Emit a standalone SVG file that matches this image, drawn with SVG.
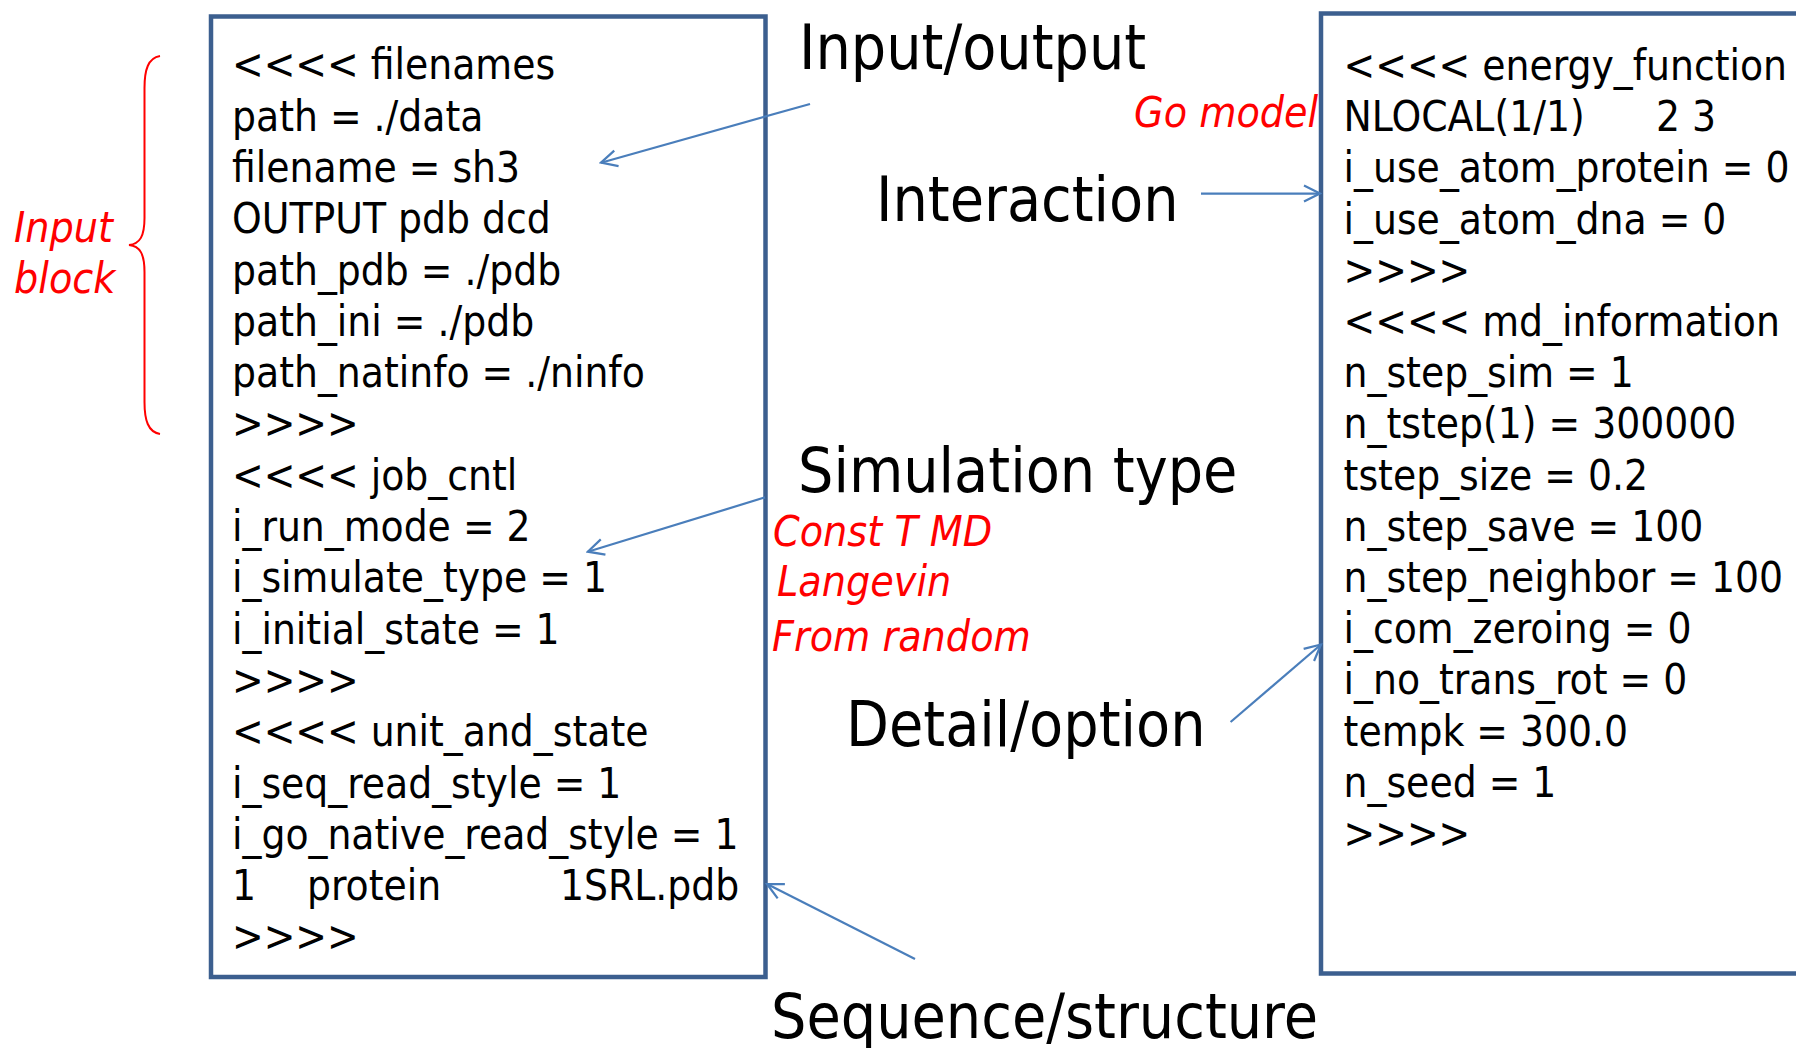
<svg xmlns="http://www.w3.org/2000/svg" width="1796" height="1048" viewBox="0 0 1796 1048">
<style>
.code{font-family:'DejaVu Sans Condensed','DejaVu Sans',sans-serif;font-stretch:condensed;font-size:42px;fill:#000}
.lab{font-family:'DejaVu Sans Condensed','DejaVu Sans',sans-serif;font-stretch:condensed;font-size:62px;fill:#000}
.note{font-family:'DejaVu Sans Condensed','DejaVu Sans',sans-serif;font-stretch:condensed;font-style:italic;font-size:42.5px;fill:#FF0000}
.box{fill:#fff;stroke:#3C5F8F;stroke-width:4.5}
.conn{fill:none;stroke:#4A7EBB;stroke-width:2.2}
</style>
<defs>
<marker id="arr" viewBox="0 0 20 20" refX="18" refY="10" markerWidth="20" markerHeight="20" markerUnits="userSpaceOnUse" orient="auto">
<path d="M2,2 L18,10 L2,18" fill="none" stroke="#4A7EBB" stroke-width="2.2"/>
</marker>
</defs>
<rect width="1796" height="1048" fill="#fff"/>
<g id="left-box">
<rect class="box" x="211" y="16.5" width="554.5" height="960.5"/>
<text class="code" x="232">
<tspan x="232" y="79.3">&lt;&lt;&lt;&lt; filenames</tspan>
<tspan x="232" y="130.6">path = ./data</tspan>
<tspan x="232" y="181.9">filename = sh3</tspan>
<tspan x="232" y="233.2">OUTPUT pdb dcd</tspan>
<tspan x="232" y="284.5">path_pdb = ./pdb</tspan>
<tspan x="232" y="335.8">path_ini = ./pdb</tspan>
<tspan x="232" y="387.1">path_natinfo = ./ninfo</tspan>
<tspan x="232" y="438.4">&gt;&gt;&gt;&gt;</tspan>
<tspan x="232" y="489.7">&lt;&lt;&lt;&lt; job_cntl</tspan>
<tspan x="232" y="541">i_run_mode = 2</tspan>
<tspan x="232" y="592.3">i_simulate_type = 1</tspan>
<tspan x="232" y="643.6">i_initial_state = 1</tspan>
<tspan x="232" y="694.9">&gt;&gt;&gt;&gt;</tspan>
<tspan x="232" y="746.2">&lt;&lt;&lt;&lt; unit_and_state</tspan>
<tspan x="232" y="797.5">i_seq_read_style = 1</tspan>
<tspan x="232" y="848.8">i_go_native_read_style = 1</tspan>
<tspan x="232" y="900.1">1</tspan><tspan x="307" y="900.1">protein</tspan><tspan x="560" y="900.1">1SRL.pdb</tspan>
<tspan x="232" y="951.4">&gt;&gt;&gt;&gt;</tspan>
</text>
</g>
<g id="right-box">
<rect class="box" x="1321" y="13.5" width="520" height="960"/>
<text class="code">
<tspan x="1343.6" y="80">&lt;&lt;&lt;&lt; energy_function</tspan>
<tspan x="1343.6" y="131.2">NLOCAL(1/1)</tspan><tspan x="1656" y="131.2">2 3</tspan>
<tspan x="1343.6" y="182.4">i_use_atom_protein = 0</tspan>
<tspan x="1343.6" y="233.6">i_use_atom_dna = 0</tspan>
<tspan x="1343.6" y="284.8">&gt;&gt;&gt;&gt;</tspan>
<tspan x="1343.6" y="336">&lt;&lt;&lt;&lt; md_information</tspan>
<tspan x="1343.6" y="387.2">n_step_sim = 1</tspan>
<tspan x="1343.6" y="438.4">n_tstep(1) = 300000</tspan>
<tspan x="1343.6" y="489.6">tstep_size = 0.2</tspan>
<tspan x="1343.6" y="540.8">n_step_save = 100</tspan>
<tspan x="1343.6" y="592">n_step_neighbor = 100</tspan>
<tspan x="1343.6" y="643.2">i_com_zeroing = 0</tspan>
<tspan x="1343.6" y="694.4">i_no_trans_rot = 0</tspan>
<tspan x="1343.6" y="745.6">tempk = 300.0</tspan>
<tspan x="1343.6" y="796.8">n_seed = 1</tspan>
<tspan x="1343.6" y="848">&gt;&gt;&gt;&gt;</tspan>
</text>
</g>
<g id="input-block-label">
<path d="M160,56 C148,58 144.5,70 144.5,88 L144.5,218 C144.5,236 140,244 129,245 C140,246 144.5,254 144.5,272 L144.5,402 C144.5,420 148,432 160,434" fill="none" stroke="#FF0000" stroke-width="2"/>
<text class="note" x="14" y="242">Input</text>
<text class="note" x="14" y="293">block</text>
</g>
<g id="label-input-output"><text class="lab" x="799" y="69">Input/output</text></g>
<g id="label-interaction"><text class="lab" x="876" y="220.7">Interaction</text></g>
<g id="label-go-model"><text class="note" x="1134" y="127">Go model</text></g>
<g id="label-simulation-type"><text class="lab" x="798" y="492">Simulation type</text></g>
<g id="label-sim-notes">
<text class="note" x="773" y="546">Const T MD</text>
<text class="note" x="777" y="596">Langevin</text>
<text class="note" x="772" y="651">From random</text>
</g>
<g id="label-detail-option"><text class="lab" x="846" y="746">Detail/option</text></g>
<g id="label-sequence-structure"><text class="lab" x="771" y="1038">Sequence/structure</text></g>
<g id="connectors">
<line class="conn" x1="810" y1="104" x2="601" y2="162.7" marker-end="url(#arr)"/>
<line class="conn" x1="1201" y1="193.6" x2="1320" y2="193.6" marker-end="url(#arr)"/>
<line class="conn" x1="765" y1="497.4" x2="587.8" y2="551.7" marker-end="url(#arr)"/>
<line class="conn" x1="1230.6" y1="722" x2="1321" y2="644.5" marker-end="url(#arr)"/>
<line class="conn" x1="915" y1="959" x2="767" y2="884" marker-end="url(#arr)"/>
</g>
</svg>
